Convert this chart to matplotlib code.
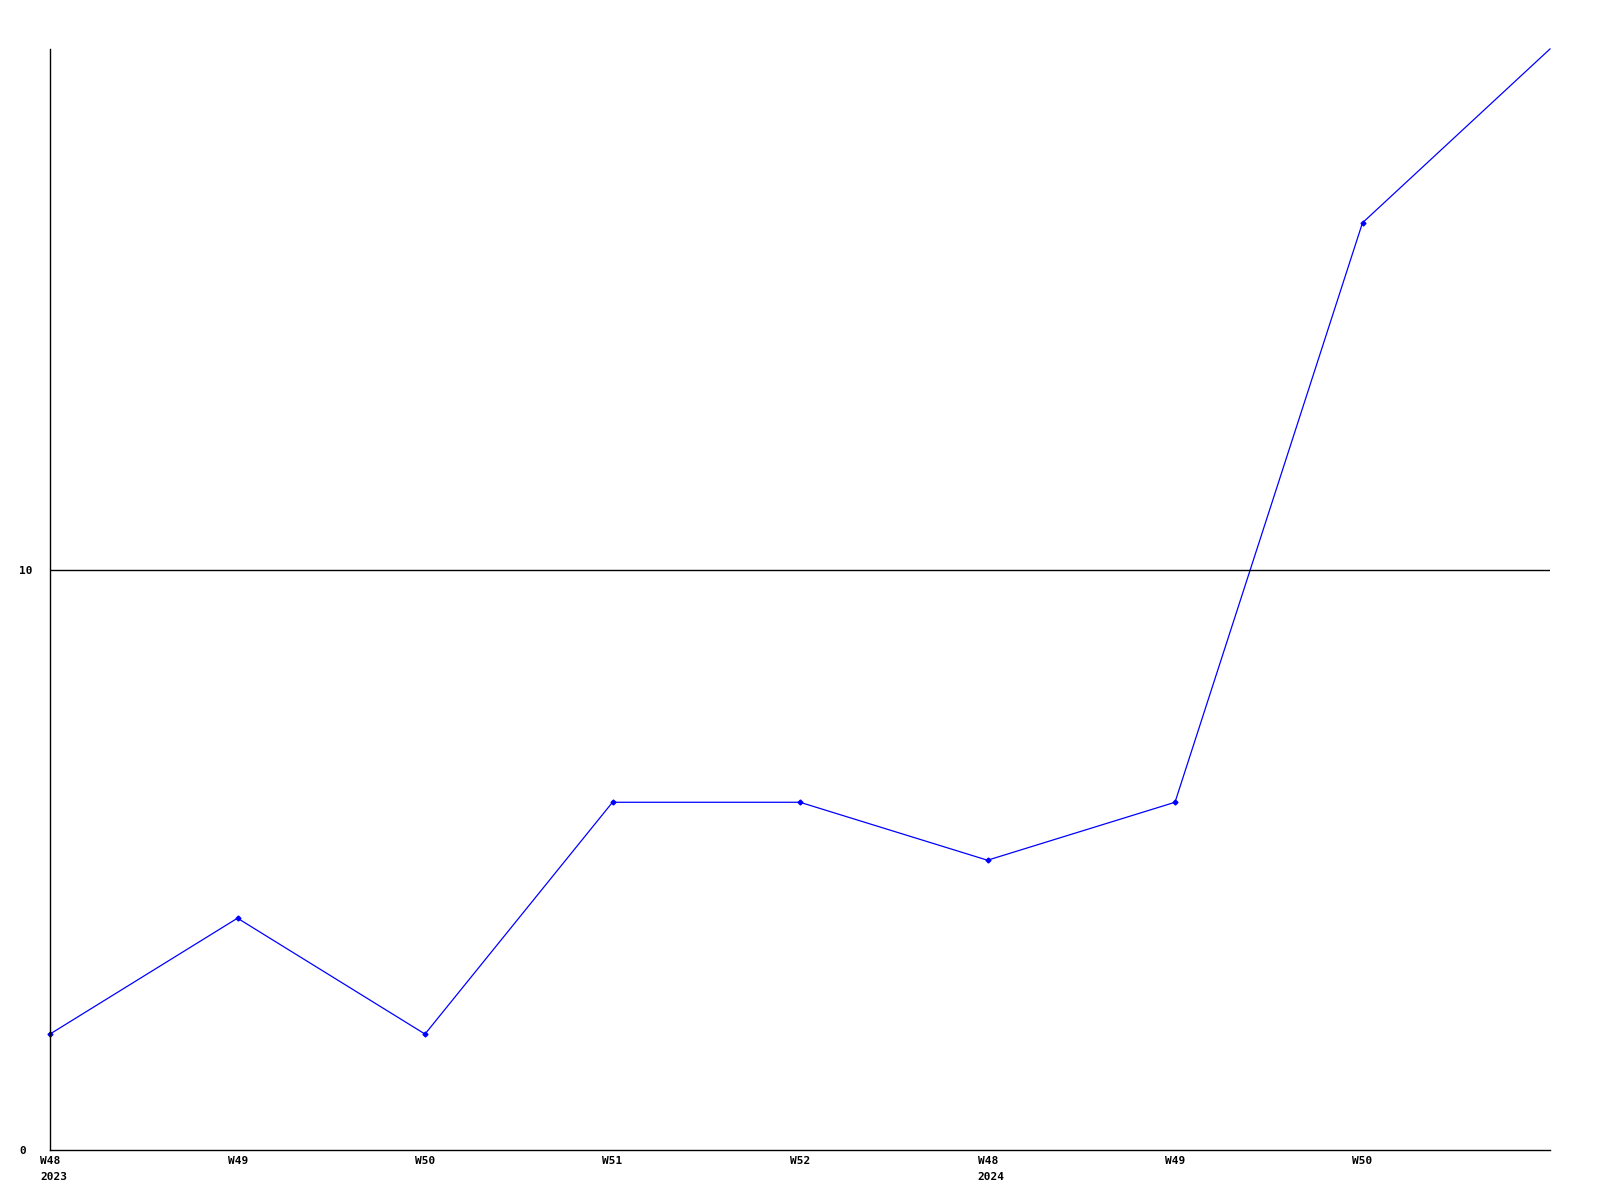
import matplotlib
matplotlib.use("Agg")
import matplotlib.pyplot as plt
import matplotlib.transforms as mtransforms

# weekly values
weeks = ["W48", "W49", "W50", "W51", "W52", "W48", "W49", "W50", "W51"]
years = ["2023", "", "", "", "", "2024", "", "", ""]
values = [2, 4, 2, 6, 6, 5, 6, 16, 19]
labeled = 8  # the last point has no label and no marker

fig = plt.figure(figsize=(16, 12), dpi=100)
ax = fig.add_axes([0.03125, 0.0417, 0.9375, 0.9175])

xs = list(range(len(values)))
ax.plot(xs, values, color="#0000ff", lw=0.9, marker="D", ms=2.5,
        markevery=list(range(labeled)), clip_on=False)

ax.set_xlim(0, len(values) - 1)
ax.set_ylim(0, 19)
ax.axhline(10, color="black", lw=1)

for s in ["top", "right"]:
    ax.spines[s].set_visible(False)
for s in ["left", "bottom"]:
    ax.spines[s].set_linewidth(1)

font = dict(family="DejaVu Sans Mono", fontweight="bold", fontsize=8)

ax.set_xticks([])
ax.set_yticks([0, 10])
ax.set_yticklabels(["0", "10"], ha="left", **font)
ax.tick_params(axis="y", length=0, pad=22)

trans = mtransforms.offset_copy(ax.transData, fig=fig, x=-10, y=-6,
                                units="dots")
for i in range(labeled):
    txt = weeks[i] if not years[i] else weeks[i] + "\n" + years[i]
    ax.text(i, 0, txt, transform=trans, ha="left", va="top",
            linespacing=1.7, **font)

fig.savefig("out.png", dpi=100)
